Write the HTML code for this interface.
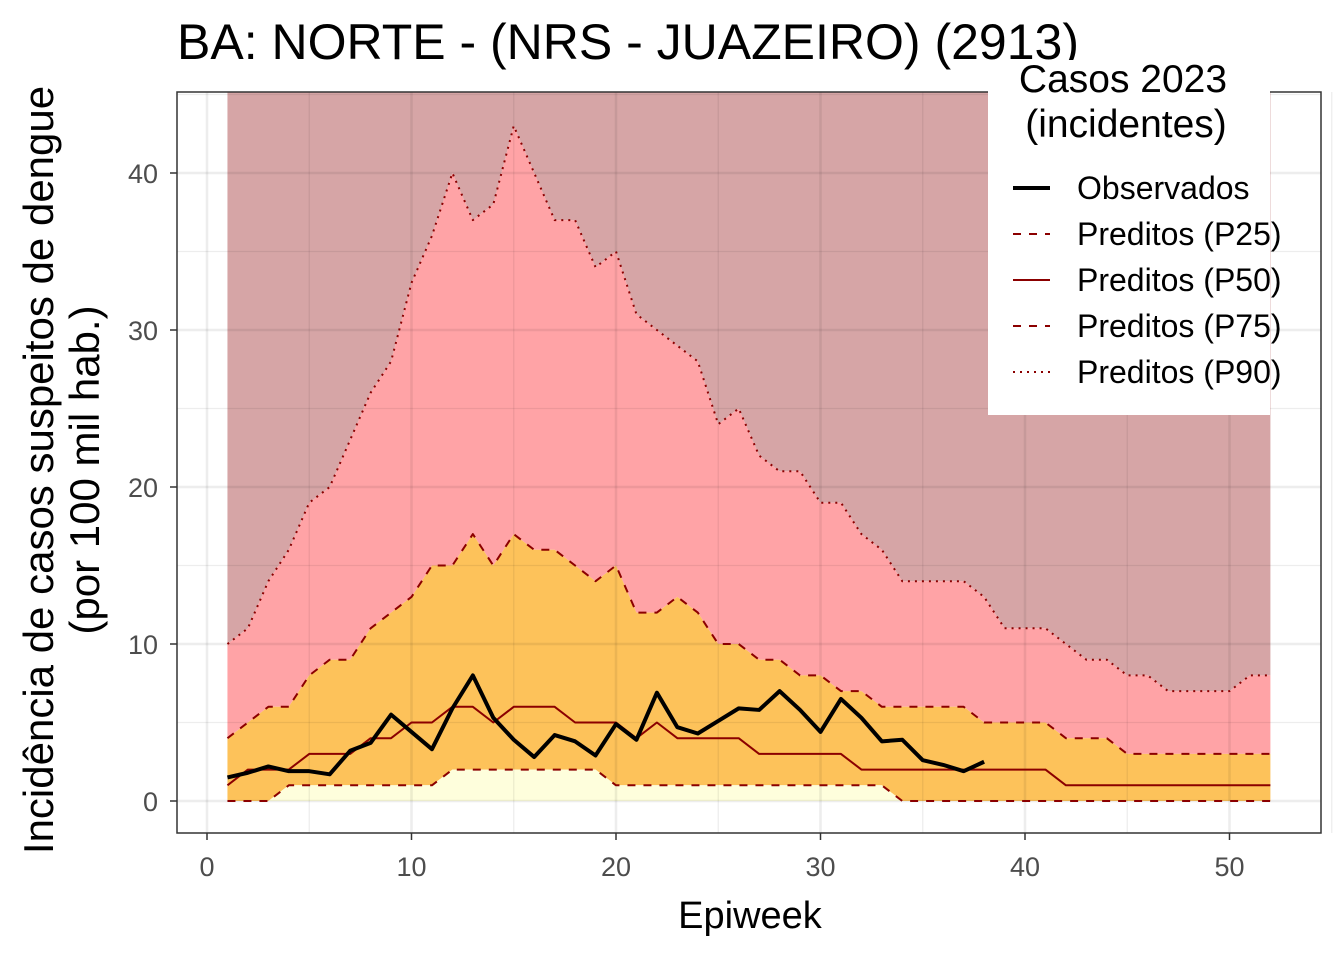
<!DOCTYPE html>
<html><head><meta charset="utf-8"><style>
body{margin:0;background:#fff;overflow:hidden;width:1344px;height:960px;position:relative;}
svg{display:block;font-family:"Liberation Sans",sans-serif;}
</style></head><body>
<svg id="chart" width="1344" height="960"></svg>
<script>
const weeks=[];for(let i=1;i<=52;i++)weeks.push(i);
const p25=[0,0,0,1,1,1,1,1,1,1,1,2,2,2,2,2,2,2,2,1,1,1,1,1,1,1,1,1,1,1,1,1,1,0,0,0,0,0,0,0,0,0,0,0,0,0,0,0,0,0,0,0];
const p50=[1,2,2,2,3,3,3,4,4,5,5,6,6,5,6,6,6,5,5,5,4,5,4,4,4,4,3,3,3,3,3,2,2,2,2,2,2,2,2,2,2,1,1,1,1,1,1,1,1,1,1,1];
const p75=[4,5,6,6,8,9,9,11,12,13,15,15,17,15,17,16,16,15,14,15,12,12,13,12,10,10,9,9,8,8,7,7,6,6,6,6,6,5,5,5,5,4,4,4,3,3,3,3,3,3,3,3];
const p90=[10,11,14,16,19,20,23,26,28,33,36,40,37,38,43,40,37,37,34,35,31,30,29,28,24,25,22,21,21,19,19,17,16,14,14,14,14,13,11,11,11,10,9,9,8,8,7,7,7,7,8,8];
const obs=[1.5,1.8,2.2,1.9,1.9,1.7,3.2,3.7,5.5,4.4,3.3,5.9,8.0,5.3,3.9,2.8,4.2,3.8,2.9,4.9,3.9,6.9,4.7,4.3,5.1,5.9,5.8,7.0,5.8,4.4,6.5,5.3,3.8,3.9,2.6,2.3,1.9,2.5];
const xTicks=[0,10,20,30,40,50];
const yTicks=[0,10,20,30,40];
const L=177,T=92,R=1321,B=833;
const X=v=>207+v*20.45, Y=v=>801-v*15.7;
const svg=document.getElementById('chart');const NS='http://www.w3.org/2000/svg';
function mk(tag,a,txt){const e=document.createElementNS(NS,tag);for(const k in a)e.setAttribute(k,a[k]);if(txt!==undefined)e.textContent=txt;svg.appendChild(e);return e;}
function pts(arr){return arr.map((v,i)=>X(weeks[i])+','+Y(v));}
function band(lo,hi,fill,name){
 const up=pts(hi),dn=lo?pts(lo).reverse():[X(52)+','+Y(0),X(1)+','+Y(0)];
 const e=mk('polygon',{points:up.concat(dn).join(' '),fill:fill});
 
 
}
const bg=mk('rect',{x:L,y:T,width:R-L,height:B-T,fill:'#fff'});


const topPts=[X(1)+','+T].concat(pts(p90)).concat([X(52)+','+T]);
const tb=mk('polygon',{points:topPts.join(' '),fill:'#D6A5A6'});


band(p75,p90,'#FFA3A6','band-p75-p90');
band(p25,p75,'#FDC25A','band-p25-p75');
band(null,p25,'#FEFEDC','band-below-p25');
for(let v=0;v<=55;v+=5){const g=mk('line',{x1:X(v),x2:X(v),y1:T,y2:B,stroke:'rgba(0,0,0,0.07)','stroke-width':v%10?1.3:2.6});
}
for(let v=0;v<=45;v+=5){const g=mk('line',{x1:L,x2:R,y1:Y(v),y2:Y(v),stroke:'rgba(0,0,0,0.07)','stroke-width':v%10?1.3:2.6});
}
function line(arr,dash,w,col,name){const e=mk('polyline',{points:pts(arr).join(' '),fill:'none',stroke:col,'stroke-width':w,'stroke-dasharray':dash,'stroke-linejoin':'round'});
}
line(p25,'8 8',2,'#8B0000','line-p25');
line(p75,'8 8',2,'#8B0000','line-p75');
line(p50,'none',2,'#8B0000','line-p50');
line(p90,'2 5',2,'#8B0000','line-p90');
line(obs,'none',4,'#000','line-observed');
const fr=mk('rect',{x:L,y:T,width:R-L,height:B-T,fill:'none',stroke:'#333','stroke-width':1.5});

xTicks.forEach(v=>{mk('line',{x1:X(v),x2:X(v),y1:B,y2:B+7,stroke:'#333','stroke-width':1.5});
const t=mk('text',{x:X(v),y:B+43,'text-anchor':'middle','font-size':27,fill:'#4D4D4D'},v);
});
yTicks.forEach(v=>{mk('line',{x1:L-7,x2:L,y1:Y(v),y2:Y(v),stroke:'#333','stroke-width':1.5});
const t=mk('text',{x:L-19,y:Y(v)+10,'text-anchor':'end','font-size':27,fill:'#4D4D4D'},v);
});
</script>
<svg style="position:absolute;left:0;top:0" width="1344" height="960">
<text x="177" y="59" font-size="50" font-family="Liberation Sans">BA: NORTE - (NRS - JUAZEIRO) (2913)</text>
<text x="750" y="928" font-size="38" text-anchor="middle" font-family="Liberation Sans">Epiweek</text>
<g transform="translate(53,470) rotate(-90)" font-size="42" font-family="Liberation Sans" text-anchor="middle">
<text x="0" y="0">Incidência de casos suspeitos de dengue</text>
<text x="0" y="46">(por 100 mil hab.)</text></g>
<g font-family="Liberation Sans">
<rect x="988" y="60" width="282" height="355" fill="#fff"/>
<text x="1123" y="92" font-size="39" text-anchor="middle">Casos 2023</text>
<text x="1126" y="137" font-size="39" text-anchor="middle">(incidentes)</text>
<line x1="1013" x2="1050" y1="188" y2="188" stroke="#000" stroke-width="4"/>
<text x="1077" y="199" font-size="32">Observados</text>
<line x1="1013" x2="1050" y1="234" y2="234" stroke="#8B0000" stroke-width="2" stroke-dasharray="8 8"/>
<text x="1077" y="245" font-size="32">Preditos (P25)</text>
<line x1="1013" x2="1050" y1="280" y2="280" stroke="#8B0000" stroke-width="2"/>
<text x="1077" y="291" font-size="32">Preditos (P50)</text>
<line x1="1013" x2="1050" y1="326" y2="326" stroke="#8B0000" stroke-width="2" stroke-dasharray="8 8"/>
<text x="1077" y="337" font-size="32">Preditos (P75)</text>
<line x1="1013" x2="1050" y1="372" y2="372" stroke="#8B0000" stroke-width="2" stroke-dasharray="2 5"/>
<text x="1077" y="383" font-size="32">Preditos (P90)</text>
</g>
</svg>
</body></html>
